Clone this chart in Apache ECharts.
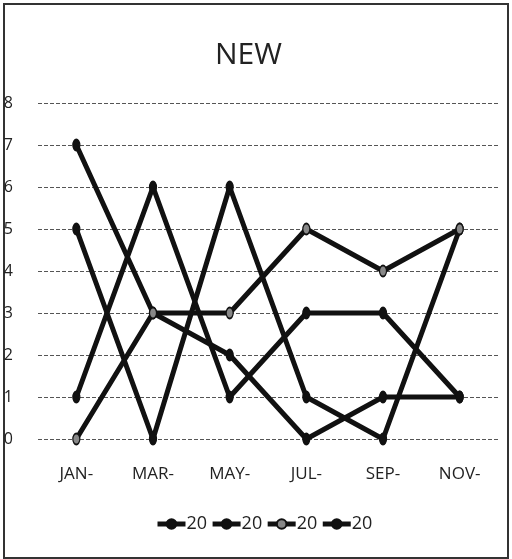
<!DOCTYPE html>
<html><head><meta charset="utf-8">
<script src="https://cdn.jsdelivr.net/npm/echarts@6/dist/echarts.min.js"></script>
<style>
html,body{margin:0;padding:0;background:#fff;}
#frame{position:absolute;left:3px;top:3px;width:506px;height:556px;border:2px solid #333;box-sizing:border-box;}
#c{position:absolute;left:0;top:0;width:512px;height:559px;}
</style></head><body>
<div id="frame"></div>
<div id="c"></div>
<script>
const categories = ['JAN-','MAR-','MAY-','JUL-','SEP-','NOV-'];
const yTicks = ['0','1','2','3','4','5','6','7','8'];
const seriesNames = ['20','20','20','20'];
const s1 = [7,3,2,0,1,1];
const s2 = [5,0,6,1,0,5];
const s3 = [0,3,3,5,4,5];
const s4 = [1,6,1,3,3,1];
const markerColors = ['#111','#111','#888','#111'];
const allData = [s1,s2,s3,s4];

const chart = echarts.init(document.getElementById('c'));
const font = '"Open Sans", Lato, sans-serif';
chart.setOption({
  animation:false,
  title:{text:'NEW',left:210,top:35,textStyle:{fontFamily:font,fontSize:30,fontWeight:'normal',color:'#222'}},
  grid:{left:38,right:14,top:103,bottom:120,containLabel:false},
  xAxis:{type:'category',data:categories,boundaryGap:true,
    axisLine:{show:false},axisTick:{show:false},
    axisLabel:{fontFamily:font,fontSize:17,color:'#222',margin:27}},
  yAxis:{type:'value',min:0,max:8,interval:1,
    axisLine:{show:false},axisTick:{show:false},
    axisLabel:{fontFamily:font,fontSize:16,color:'#222',margin:25,formatter:v=>yTicks[v]},
    splitLine:{lineStyle:{type:[4,2],color:'#555',width:1}}},
  legend:{top:510,left:150,itemWidth:28,itemHeight:12,itemGap:3,
    lineStyle:{width:5,color:'#111'},
    textStyle:{fontFamily:font,fontSize:18,color:'#222',padding:[0,0,0,-4]},
    data:seriesNames.map((n,i)=>({name:n+'\u200b'.repeat(i)}))},
  series:allData.map((d,i)=>({
    name:seriesNames[i]+'\u200b'.repeat(i),
    type:'line',data:d,symbol:'circle',symbolSize:[7,11],
    lineStyle:{color:'#111',width:5},
    itemStyle:{color:markerColors[i],borderColor:'#111',borderWidth:1.5}
  }))
});
</script>
</body></html>
